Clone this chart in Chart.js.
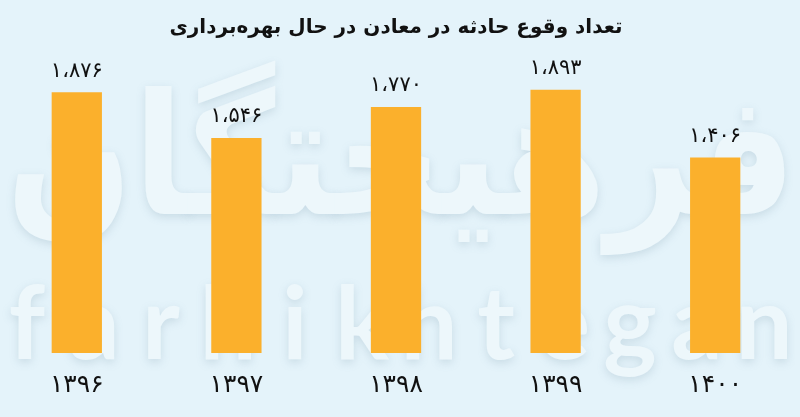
<!DOCTYPE html>
<html lang="fa">
<head>
<meta charset="utf-8">
<script src="https://cdn.jsdelivr.net/npm/chart.js@4/dist/chart.umd.min.js"></script>
<style>
    html, body { margin: 0; padding: 0; background: #E4F3FA; overflow: hidden; }
    #wrap { position: absolute; left: -3px; top: 0; width: 798px; height: 417px; }
</style>
</head>
<body>
<div id="wrap"><canvas id="grafico"></canvas></div>
<script>
const sale = ["۱۳۹۶", "۱۳۹۷", "۱۳۹۸", "۱۳۹۹", "۱۴۰۰"];
const havades = [1876, 1546, 1770, 1893, 1406];
const titr = "تعداد وقوع حادثه در معادن در حال بهره‌برداری";

const RANG_BAR = "#FBB02C";
const FONT_FA = "'DejaVu Sans', sans-serif";

function beFarsi(n) {
    const s = n.toLocaleString("en-US").replace(/,/g, "،");
    return s.replace(/[0-9]/g, d => "۰۱۲۳۴۵۶۷۸۹"[d]);
}

// watermark drawn behind the bars
const watermark = {
    id: "watermark",
    beforeDatasetsDraw(chart) {
        const ctx = chart.ctx;
        ctx.save();
        ctx.fillStyle = "#EDF7FB";
        ctx.shadowColor = "rgba(120,150,170,0.25)";
        ctx.shadowBlur = 8;
        ctx.shadowOffsetY = 3;

        // persian word
        ctx.font = "bold 200px " + FONT_FA;
        ctx.textBaseline = "alphabetic";
        const kalame = "فرهیختگان";
        const m = ctx.measureText(kalame);
        const w = m.actualBoundingBoxLeft + m.actualBoundingBoxRight;
        const h = m.actualBoundingBoxAscent + m.actualBoundingBoxDescent;
        const sx = 770 / w, sy = 195 / h;
        ctx.save();
        ctx.translate(18, 60);
        ctx.scale(sx, sy);
        ctx.fillText(kalame, m.actualBoundingBoxLeft, m.actualBoundingBoxAscent);
        ctx.restore();

        // latin word, evenly spaced letters
        ctx.font = "bold 100px Lato, sans-serif";
        ctx.textAlign = "center";
        const hm = ctx.measureText("h");
        const k = 75 / hm.actualBoundingBoxAscent;
        ctx.font = "bold " + (100 * k).toFixed(1) + "px Lato, sans-serif";
        "farhikhtegan".split("").forEach((c, i) => {
            ctx.fillText(c, 30 + i * 67, 359);
        });
        ctx.restore();
    }
};

const barchasb = {
    id: "barchasb",
    afterDatasetsDraw(chart) {
        const ctx = chart.ctx;
        const meta = chart.getDatasetMeta(0);
        ctx.save();
        ctx.font = "21px " + FONT_FA;
        ctx.fillStyle = "#111";
        ctx.textAlign = "center";
        ctx.textBaseline = "middle";
        meta.data.forEach((bar, i) => {
            ctx.fillText(beFarsi(havades[i]), bar.x, bar.y - 21);
        });
        ctx.restore();
    }
};

const instGrafico = new Chart(document.getElementById("grafico").getContext("2d"), {
    type: "bar",
    data: {
        labels: sale,
        datasets: [{
            data: havades,
            backgroundColor: RANG_BAR,
            barPercentage: 0.63,
            categoryPercentage: 0.5
        }]
    },
    options: {
        responsive: true,
        maintainAspectRatio: false,
        animation: false,
        layout: { padding: { left: 0, right: 0, top: 0, bottom: 0 } },
        scales: {
            y: { display: false, min: 0, max: 2100 },
            x: {
                grid: { display: false, drawTicks: false },
                border: { display: false },
                ticks: { color: "#111", padding: 17, font: { family: FONT_FA, size: 25 } }
            }
        },
        plugins: {
            legend: { display: false },
            tooltip: { enabled: false },
            title: {
                display: true,
                text: titr,
                color: "#111",
                padding: { top: 16, bottom: 21 },
                font: { family: FONT_FA, size: 20, weight: "bold", lineHeight: 1.2 }
            }
        }
    },
    plugins: [watermark, barchasb]
});
</script>
</body>
</html>
